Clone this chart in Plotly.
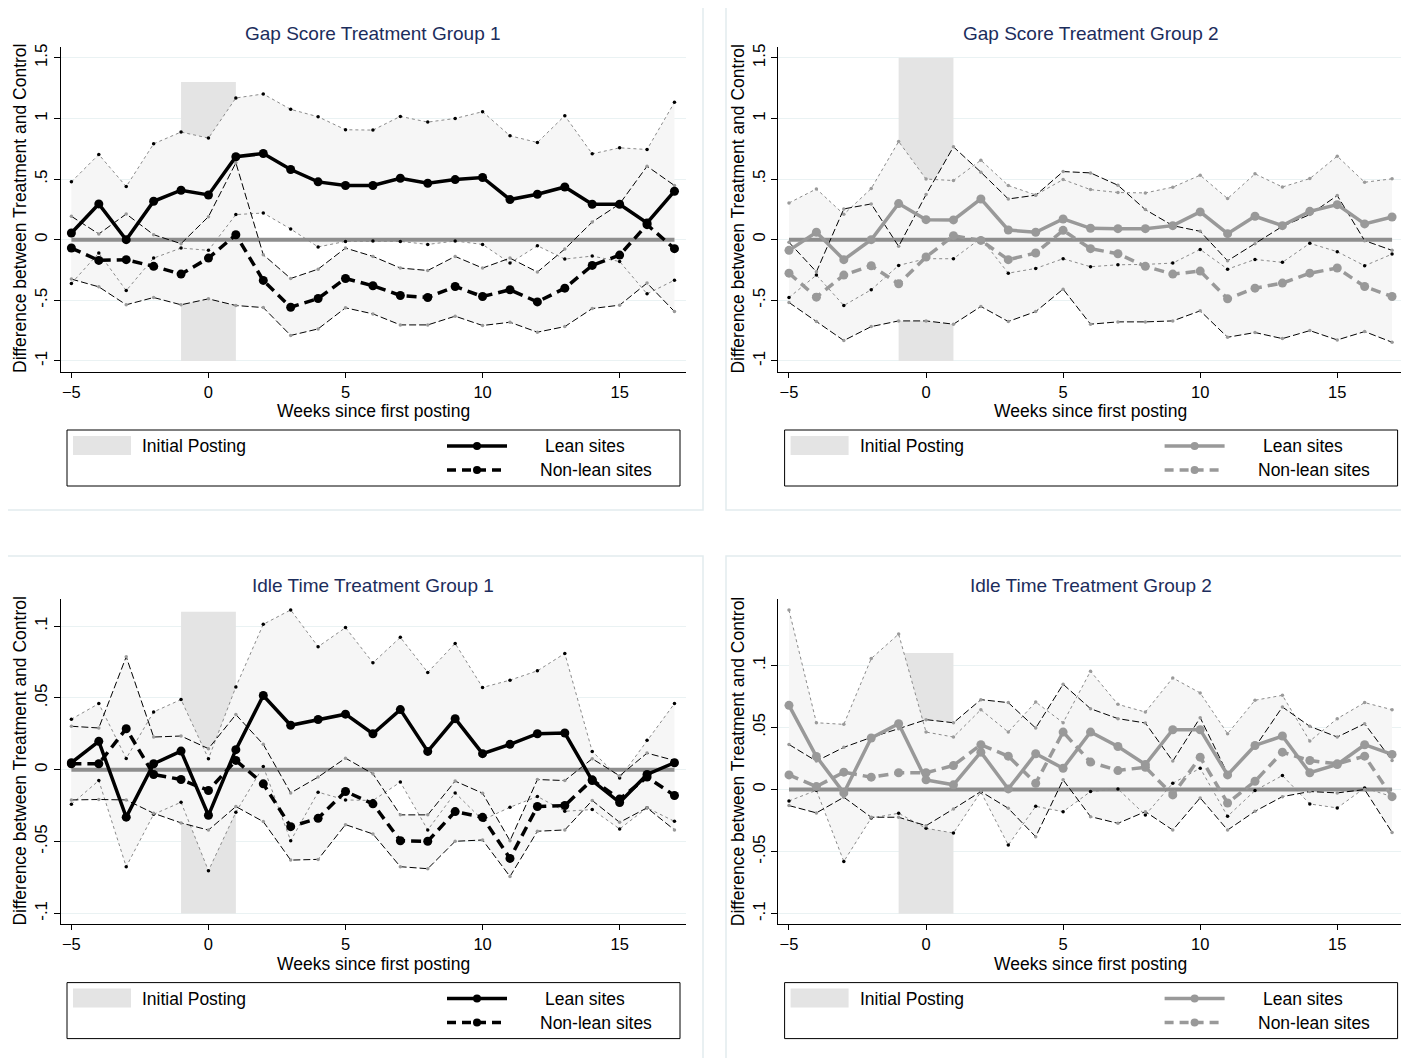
import plotly.graph_objects as go

# ---------------- data ----------------
weeks = list(range(-5, 18))

gap1_lean = [0.055, 0.295, 0.0, 0.317, 0.408, 0.369, 0.684, 0.711, 0.579, 0.477, 0.447, 0.447, 0.507,
             0.466, 0.496, 0.513, 0.331, 0.375, 0.435, 0.292, 0.292, 0.138, 0.40]
gap1_lean_hi = [0.477, 0.703, 0.438, 0.791, 0.888, 0.838, 1.169, 1.202, 1.075, 1.014, 0.907, 0.904, 1.017,
                0.970, 1.0, 1.056, 0.857, 0.802, 1.023, 0.708, 0.758, 0.744, 1.133]
gap1_lean_lo = [-0.361, -0.11, -0.42, -0.152, -0.069, -0.088, 0.207, 0.22, 0.088, -0.06, -0.014, -0.011,
                -0.014, -0.039, -0.011, -0.039, -0.193, -0.05, -0.16, -0.135, -0.18, -0.447, -0.334]
gap1_nonlean = [-0.069, -0.171, -0.165, -0.22, -0.284, -0.152, 0.041, -0.336, -0.557, -0.485, -0.32, -0.38,
                -0.46, -0.477, -0.386, -0.469, -0.413, -0.513, -0.40, -0.212, -0.127, 0.124, -0.074]
gap1_nonlean_hi = [0.193, 0.047, 0.212, 0.041, -0.033, 0.19, 0.634, -0.124, -0.32, -0.243, -0.069, -0.138,
                   -0.234, -0.254, -0.138, -0.234, -0.152, -0.267, -0.077, 0.146, 0.295, 0.606, 0.447]
gap1_nonlean_lo = [-0.325, -0.389, -0.537, -0.477, -0.537, -0.488, -0.543, -0.56, -0.79, -0.736, -0.562,
                   -0.612, -0.703, -0.703, -0.631, -0.708, -0.681, -0.763, -0.717, -0.568, -0.54, -0.358, -0.593]

gap2_lean = [-0.088, 0.061, -0.165, 0.0, 0.298, 0.165, 0.163, 0.336, 0.08, 0.061, 0.171, 0.094, 0.091,
             0.091, 0.116, 0.229, 0.05, 0.193, 0.116, 0.234, 0.289, 0.13, 0.187]
gap2_lean_hi = [0.303, 0.419, 0.209, 0.422, 0.81, 0.50, 0.488, 0.656, 0.447, 0.369, 0.496, 0.413, 0.389,
                0.386, 0.433, 0.532, 0.339, 0.543, 0.435, 0.504, 0.689, 0.474, 0.502]
gap2_lean_lo = [-0.477, -0.292, -0.543, -0.413, -0.212, -0.157, -0.157, 0.012, -0.276, -0.237, -0.157,
                -0.223, -0.207, -0.204, -0.193, -0.08, -0.243, -0.163, -0.187, -0.03, -0.099, -0.215, -0.119]
gap2_nonlean = [-0.276, -0.474, -0.292, -0.215, -0.364, -0.143, 0.033, -0.006, -0.165, -0.11, 0.077, -0.074,
                -0.116, -0.22, -0.284, -0.259, -0.488, -0.40, -0.358, -0.276, -0.234, -0.386, -0.469]
gap2_nonlean_hi = [-0.022, -0.265, 0.254, 0.295, -0.055, 0.372, 0.766, 0.557, 0.336, 0.367, 0.562, 0.551,
                   0.449, 0.248, 0.116, 0.069, -0.174, -0.033, 0.11, 0.207, 0.364, -0.008, -0.088]
gap2_nonlean_lo = [-0.518, -0.675, -0.832, -0.717, -0.67, -0.67, -0.697, -0.551, -0.675, -0.593, -0.408,
                   -0.697, -0.678, -0.678, -0.67, -0.587, -0.805, -0.766, -0.816, -0.75, -0.827, -0.758, -0.846]

idle1_lean = [0.0049, 0.0198, -0.033, 0.0042, 0.013, -0.0317, 0.014, 0.0517, 0.031, 0.035, 0.0387, 0.0251,
              0.0419, 0.0128, 0.0356, 0.0112, 0.0177, 0.0251, 0.0256, -0.0075, -0.0228, -0.0033, 0.0049]
idle1_lean_hi = [0.0352, 0.0461, 0.0079, 0.0403, 0.0489, 0.0077, 0.0577, 0.1013, 0.1113, 0.0857, 0.099,
                 0.0745, 0.0922, 0.0678, 0.088, 0.0573, 0.0624, 0.0689, 0.081, 0.0128, -0.0058, 0.0205, 0.0461]
idle1_lean_lo = [-0.024, -0.0075, -0.0675, -0.031, -0.0226, -0.0703, -0.0296, 0.0023, -0.0494, -0.0156,
                 -0.021, -0.0214, -0.0086, -0.0419, -0.0161, -0.035, -0.0261, -0.0186, -0.0289, -0.0277,
                 -0.0412, -0.0265, -0.0359]
idle1_nonlean = [0.0042, 0.0042, 0.0286, -0.0033, -0.0068, -0.0144, 0.0065, -0.0098, -0.0396, -0.0338,
                 -0.0151, -0.0237, -0.0494, -0.0498, -0.0291, -0.0331, -0.0617, -0.0256, -0.0249, -0.007,
                 -0.0204, -0.0051, -0.0179]
idle1_nonlean_hi = [0.0303, 0.0291, 0.0787, 0.0228, 0.0235, 0.0147, 0.0384, 0.0177, -0.0161, -0.0051, 0.0081,
                    -0.0028, -0.0314, -0.0314, -0.0079, -0.0163, -0.0494, -0.0068, -0.0075, 0.0077, -0.0042,
                    0.0116, 0.0065]
idle1_nonlean_lo = [-0.021, -0.0207, -0.021, -0.0303, -0.037, -0.042, -0.0256, -0.0361, -0.0629, -0.0624,
                    -0.0382, -0.0447, -0.0675, -0.0689, -0.0498, -0.0489, -0.0743, -0.0428, -0.0419, -0.0214,
                    -0.0366, -0.0265, -0.0419]

idle2_lean = [0.0678, 0.0266, -0.0027, 0.0415, 0.053, 0.0078, 0.0038, 0.0301, 0.0005, 0.0288, 0.0172, 0.0463,
              0.0347, 0.0202, 0.0482, 0.0482, 0.0118, 0.0355, 0.0431, 0.0135, 0.0202, 0.0361, 0.0283]
idle2_lean_hi = [0.1445, 0.0538, 0.0525, 0.1055, 0.1252, 0.0463, 0.0423, 0.0643, 0.0463, 0.0705, 0.0538,
                 0.0953, 0.0686, 0.0624, 0.0899, 0.0778, 0.045, 0.0719, 0.0759, 0.039, 0.0571, 0.07, 0.0643]
idle2_lean_lo = [-0.0092, -0.0006, -0.0579, -0.0229, -0.0191, -0.0312, -0.035, -0.0019, -0.0447, -0.0135,
                 -0.0178, -0.0016, 0.0005, -0.0205, 0.0051, 0.0172, -0.0215, -0.0008, 0.0113, -0.0116,
                 -0.0148, 0.0013, -0.0057]
idle2_nonlean = [0.0118, 0.0024, 0.014, 0.01, 0.0135, 0.0135, 0.0194, 0.0361, 0.0269, 0.0051, 0.0463, 0.0221,
                 0.0153, 0.018, -0.0043, 0.0261, -0.0108, 0.0067, 0.0301, 0.0234, 0.0207, 0.0269, -0.0057]
idle2_nonlean_hi = [0.0363, 0.0229, 0.034, 0.042, 0.049, 0.0563, 0.0538, 0.0724, 0.07, 0.0495, 0.0848, 0.0651,
                    0.0571, 0.0536, 0.0229, 0.0579, 0.0127, 0.0342, 0.0665, 0.0509, 0.0423, 0.053, 0.0234]
idle2_nonlean_lo = [-0.0129, -0.0188, -0.0062, -0.0223, -0.0223, -0.0291, -0.0156, -0.0016, -0.0151, -0.038,
                    0.0078, -0.0218, -0.0272, -0.0178, -0.0326, -0.0067, -0.0326, -0.0175, -0.0057, -0.0016,
                    -0.0027, 0.0, -0.0345]

# initial posting window (weeks) and its vertical extent in each panel
posting_weeks = [-1, 1]
posting_gap1 = [-1.0, 1.3]
posting_gap2 = [-1.0, 1.5]
posting_idle1 = [-0.1, 0.11]
posting_idle2 = [-0.1, 0.11]

gap_ticks = [-1, -0.5, 0, 0.5, 1, 1.5]
gap_ticktext = ["-1", "-.5", "0", ".5", "1", "1.5"]
idle_ticks = [-0.1, -0.05, 0, 0.05, 0.1]
idle_ticktext = ["-.1", "-.05", "0", ".05", ".1"]
x_ticks = [-5, 0, 5, 10, 15]

titles = ["Gap Score Treatment Group 1", "Gap Score Treatment Group 2",
          "Idle Time Treatment Group 1", "Idle Time Treatment Group 2"]
legend_labels = ["Initial Posting", "Lean sites", "Non-lean sites"]
y_title = "Difference between Treatment and Control"
x_title = "Weeks since first posting"

# ---------------- styling / layout ----------------
OFF = 8                      # page body margin of the browser
W, H = 1409 - OFF, 1058 - OFF
FONT = "Liberation Sans, Arial, sans-serif"
TITLE_COLOR = "#1c2d5c"
POST_COLOR = "#e4e4e4"
BAND_COLOR = "#f6f6f6"
ZERO_COLOR = "#8e8e8e"
GRID_COLOR = "#eaf2f3"
BORDER_COLOR = "#e2ecee"


def fx(p):
    return (p - OFF) / W


def fy(p):
    return 1 - (p - OFF) / H


panels = [
    dict(lean=gap1_lean, lh=gap1_lean_hi, ll=gap1_lean_lo, nl=gap1_nonlean, nh=gap1_nonlean_hi,
         nlo=gap1_nonlean_lo, post=posting_gap1, yr=[-1.089, 1.592], tv=gap_ticks, tt=gap_ticktext,
         color="#000000", hi_dot="#000000", dx=0, dy=0),
    dict(lean=gap2_lean, lh=gap2_lean_hi, ll=gap2_lean_lo, nl=gap2_nonlean, nh=gap2_nonlean_hi,
         nlo=gap2_nonlean_lo, post=posting_gap2, yr=[-1.089, 1.592], tv=gap_ticks, tt=gap_ticktext,
         color="#999999", hi_dot="#9a9a9a", dx=717.6, dy=0),
    dict(lean=idle1_lean, lh=idle1_lean_hi, ll=idle1_lean_lo, nl=idle1_nonlean, nh=idle1_nonlean_hi,
         nlo=idle1_nonlean_lo, post=posting_idle1, yr=[-0.1076, 0.1187], tv=idle_ticks, tt=idle_ticktext,
         color="#000000", hi_dot="#000000", dx=0, dy=552.6),
    dict(lean=idle2_lean, lh=idle2_lean_hi, ll=idle2_lean_lo, nl=idle2_nonlean, nh=idle2_nonlean_hi,
         nlo=idle2_nonlean_lo, post=posting_idle2, yr=[-0.1085, 0.1532], tv=idle_ticks, tt=idle_ticktext,
         color="#999999", hi_dot="#9a9a9a", dx=717.6, dy=552.6),
]

fig = go.Figure()
shapes = []
annotations = []
layout_axes = {}

for i, p in enumerate(panels):
    n = i + 1
    xa = "x" if n == 1 else f"x{n}"
    ya = "y" if n == 1 else f"y{n}"
    dx, dy = p["dx"], p["dy"]
    c = p["color"]

    # initial posting shaded window
    fig.add_trace(go.Bar(
        x=[(posting_weeks[0] + posting_weeks[1]) / 2], y=[p["post"][1] - p["post"][0]],
        base=[p["post"][0]], width=[posting_weeks[1] - posting_weeks[0]],
        marker=dict(color=POST_COLOR, line=dict(width=0)), xaxis=xa, yaxis=ya,
        showlegend=False, hoverinfo="skip"))

    # confidence bands (fills)
    for hi, lo in ((p["lh"], p["ll"]), (p["nh"], p["nlo"])):
        fig.add_trace(go.Scatter(x=weeks, y=hi, mode="lines", line=dict(width=0, color=BAND_COLOR),
                                 xaxis=xa, yaxis=ya, showlegend=False, hoverinfo="skip"))
        fig.add_trace(go.Scatter(x=weeks, y=lo, mode="lines", line=dict(width=0, color=BAND_COLOR),
                                 fill="tonexty", fillcolor=BAND_COLOR, xaxis=xa, yaxis=ya,
                                 showlegend=False, hoverinfo="skip"))

    # zero reference line
    fig.add_trace(go.Scatter(x=[weeks[0], weeks[-1]], y=[0, 0], mode="lines",
                             line=dict(color=ZERO_COLOR, width=4), xaxis=xa, yaxis=ya,
                             showlegend=False, hoverinfo="skip"))

    # CI boundary lines
    fig.add_trace(go.Scatter(x=weeks, y=p["lh"], mode="lines+markers",
                             line=dict(color="#8a8a8a", width=1, dash="dot"),
                             marker=dict(size=3.5, color=p["hi_dot"]), xaxis=xa, yaxis=ya,
                             showlegend=False, hoverinfo="skip"))
    fig.add_trace(go.Scatter(x=weeks, y=p["ll"], mode="lines+markers",
                             line=dict(color="#8a8a8a", width=1, dash="dot"),
                             marker=dict(size=3.5, color="#000000"), xaxis=xa, yaxis=ya,
                             showlegend=False, hoverinfo="skip"))
    for arr in (p["nh"], p["nlo"]):
        fig.add_trace(go.Scatter(x=weeks, y=arr, mode="lines+markers",
                                 line=dict(color="#000000", width=1, dash="7px,3px"),
                                 marker=dict(size=3.5, color="#9a9a9a"), xaxis=xa, yaxis=ya,
                                 showlegend=False, hoverinfo="skip"))

    # main series
    fig.add_trace(go.Scatter(x=weeks, y=p["nl"], mode="lines+markers", name="Non-lean sites",
                             line=dict(color=c, width=3.5, dash="10px,6px"),
                             marker=dict(size=9, color=c), xaxis=xa, yaxis=ya, showlegend=False))
    fig.add_trace(go.Scatter(x=weeks, y=p["lean"], mode="lines+markers", name="Lean sites",
                             line=dict(color=c, width=3.5),
                             marker=dict(size=9, color=c), xaxis=xa, yaxis=ya, showlegend=False))

    # axes
    xkey = "xaxis" if n == 1 else f"xaxis{n}"
    ykey = "yaxis" if n == 1 else f"yaxis{n}"
    layout_axes[xkey] = dict(
        domain=[fx(60.7 + dx), min(1.0, fx(685.7 + dx))], range=[-5.39, 17.41], anchor=ya,
        tickvals=x_ticks, ticks="outside", ticklen=5, tickcolor="#000", tickwidth=1,
        showline=True, linecolor="#000", linewidth=1, showgrid=False, zeroline=False,
        tickfont=dict(size=16.5, color="#000", family=FONT), automargin=False, fixedrange=True)
    layout_axes[ykey] = dict(
        domain=[fy(371.7 + dy), fy(46.7 + dy)], range=p["yr"], anchor=xa,
        tickvals=p["tv"], ticktext=p["tt"], tickangle=-90, ticks="outside", ticklen=6,
        tickcolor="#000", tickwidth=1, showline=True, linecolor="#000", linewidth=1,
        showgrid=True, gridcolor=GRID_COLOR, gridwidth=1, zeroline=False,
        tickfont=dict(size=17, color="#000", family=FONT), automargin=False, fixedrange=True)

    # panel border
    bx0 = 6 if dx == 0 else 726
    bx1 = 703 if dx == 0 else 1440
    by0 = 5 if dy == 0 else 556
    by1 = 510 if dy == 0 else 1090
    shapes.append(dict(type="rect", xref="paper", yref="paper", layer="below",
                       x0=fx(bx0), x1=fx(bx1), y0=fy(by1), y1=fy(by0),
                       line=dict(color=BORDER_COLOR, width=1.5), fillcolor="rgba(0,0,0,0)"))

    # titles
    annotations.append(dict(text=titles[i], x=fx(373 + dx), y=fy(33 + dy), xref="paper", yref="paper",
                            xanchor="center", yanchor="middle", showarrow=False,
                            font=dict(size=19, color=TITLE_COLOR, family=FONT)))
    annotations.append(dict(text=y_title, x=fx(20 + dx), y=fy(209 + dy), xref="paper", yref="paper",
                            xanchor="center", yanchor="middle", showarrow=False, textangle=-90,
                            font=dict(size=17.5, color="#000", family=FONT)))
    annotations.append(dict(text=x_title, x=fx(373 + dx), y=fy(411 + dy), xref="paper", yref="paper",
                            xanchor="center", yanchor="middle", showarrow=False,
                            font=dict(size=17.5, color="#000", family=FONT)))

    # legend box
    shapes.append(dict(type="rect", xref="paper", yref="paper", x0=fx(67 + dx), x1=fx(680 + dx),
                       y0=fy(486 + dy), y1=fy(430 + dy), line=dict(color="#000", width=1),
                       fillcolor="white"))
    shapes.append(dict(type="rect", xref="paper", yref="paper", x0=fx(73 + dx), x1=fx(131 + dx),
                       y0=fy(455 + dy), y1=fy(436 + dy), line=dict(width=0), fillcolor=POST_COLOR))
    shapes.append(dict(type="line", xref="paper", yref="paper", x0=fx(447 + dx), x1=fx(507 + dx),
                       y0=fy(446 + dy), y1=fy(446 + dy), line=dict(color=c, width=3.5)))
    shapes.append(dict(type="line", xref="paper", yref="paper", x0=fx(447 + dx), x1=fx(507 + dx),
                       y0=fy(470 + dy), y1=fy(470 + dy), line=dict(color=c, width=3.5, dash="9px,6px")))
    for yy in (446, 470):
        shapes.append(dict(type="circle", xref="paper", yref="paper", x0=fx(473 + dx), x1=fx(481 + dx),
                           y0=fy(yy + 4 + dy), y1=fy(yy - 4 + dy), line=dict(width=0), fillcolor=c))
    for txt, lx, ly in ((legend_labels[0], 140, 446), (legend_labels[1], 543, 446),
                        (legend_labels[2], 538, 470)):
        annotations.append(dict(text=txt, x=fx(lx + dx), y=fy(ly + dy), xref="paper", yref="paper",
                                xanchor="left", yanchor="middle", showarrow=False,
                                font=dict(size=17.5, color="#000", family=FONT)))

fig.update_layout(
    width=W, height=H, margin=dict(l=0, r=0, t=0, b=0),
    paper_bgcolor="white", plot_bgcolor="white",
    font=dict(family=FONT, color="#000"),
    showlegend=False, barmode="overlay",
    shapes=shapes, annotations=annotations, **layout_axes)

fig.write_html("out.html")
